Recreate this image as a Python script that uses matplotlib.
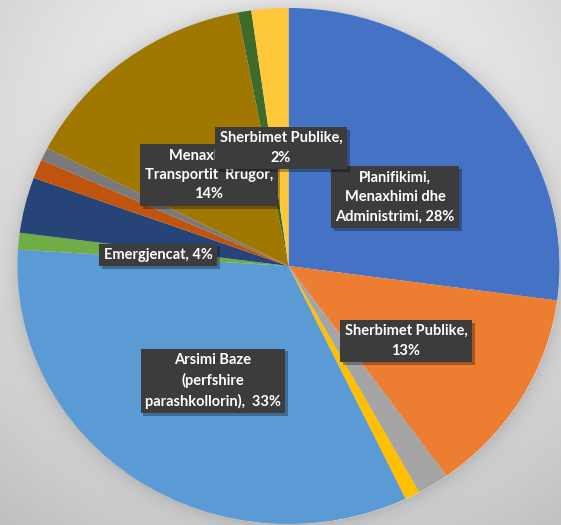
import numpy as np
import matplotlib
matplotlib.use("Agg")
import matplotlib.pyplot as plt
from matplotlib import patheffects as pe

# ---- data (clockwise from 12 o'clock) ----
categories = [
    "Planifikimi, Menaxhimi dhe Administrimi",
    "Sherbimet Publike",
    "Tjeter 1",
    "Tjeter 2",
    "Arsimi Baze (perfshire parashkollorin)",
    "Tjeter 3",
    "Emergjencat",
    "Tjeter 4",
    "Tjeter 5",
    "Menaxhimi i Transportit Rrugor",
    "Tjeter 6",
    "Sherbimet Publike 2",
]
values = [27.2, 13.0, 1.9, 0.9, 33.2, 1.05, 3.5, 1.2, 0.8, 14.5, 0.8, 2.2]
colors = ["#4472C4", "#ED7D31", "#A5A5A5", "#FFC000", "#5B9BD5", "#70AD47",
          "#264478", "#C0540F", "#7A7A7A", "#A07800", "#3E6B2A", "#FFC83A"]

label_texts = [
    "Planifikimi,\nMenaxhimi dhe\nAdministrimi, 28%",
    "Sherbimet Publike,\n13%",
    "Arsimi Baze\n(perfshire\nparashkollorin),  33%",
    "Emergjencat, 4%",
    "Menaxhimi i\nTransportit  Rrugor,\n14%",
    "Sherbimet Publike,\n2%",
]

W, H = 561, 525
fig = plt.figure(figsize=(W / 100, H / 100), dpi=100)

# ---- background gradient with soft shadow around pie ----
cx, cy, rx, ry = 288.5, 266.0, 271.0, 258.0
bg = fig.add_axes([0, 0, 1, 1], zorder=0)
yy, xx = np.mgrid[0:H, 0:W]
r = np.sqrt(((xx - 290) / 420.0) ** 2 + ((yy - 150) / 420.0) ** 2)
base = 0.955 - 0.17 * np.clip(r, 0, 1.2) ** 1.6
d = np.sqrt(((xx - cx) / rx) ** 2 + ((yy - cy) / ry) ** 2)
shadow = np.where(d > 1, 0.10 * np.exp(-(d - 1) / 0.035), 0.0)
img = np.clip(base - shadow, 0, 1)
bg.imshow(np.dstack([img, img, img]), extent=[0, W, H, 0], aspect="auto")
bg.set_xlim(0, W)
bg.set_ylim(H, 0)
bg.axis("off")

# ---- pie ----
left, right, top, bottom = cx - rx, cx + rx, cy - ry, cy + ry
ax = fig.add_axes([left / W, 1 - bottom / H, (right - left) / W, (bottom - top) / H], zorder=1)
ax.pie(values, colors=colors, startangle=90, counterclock=False,
       wedgeprops=dict(linewidth=0), radius=1)
ax.set_aspect("auto")
ax.set_xlim(-1, 1)
ax.set_ylim(-1, 1)
ax.axis("off")

# ---- data labels ----
tax = fig.add_axes([0, 0, 1, 1], zorder=2)
tax.set_xlim(0, W)
tax.set_ylim(H, 0)
tax.axis("off")

label_pos = [(395, 197), (406, 341), (213, 381), (158, 255), (209, 175), (281, 148)]
for i, (txt, (x, y)) in enumerate(zip(label_texts, label_pos)):
    t = tax.text(x, y, txt, ha="center", va="center", fontsize=10.5,
                 fontweight="bold", family="Lato", color="white", linespacing=1.5,
                 zorder=3 + i,
                 bbox=dict(boxstyle="square,pad=0.3", fc="#3c3c3c", ec="none"))
    t.get_bbox_patch().set_path_effects(
        [pe.SimplePatchShadow(offset=(2, -2), shadow_rgbFace="black", alpha=0.3), pe.Normal()])

fig.savefig("out.png", dpi=100)
